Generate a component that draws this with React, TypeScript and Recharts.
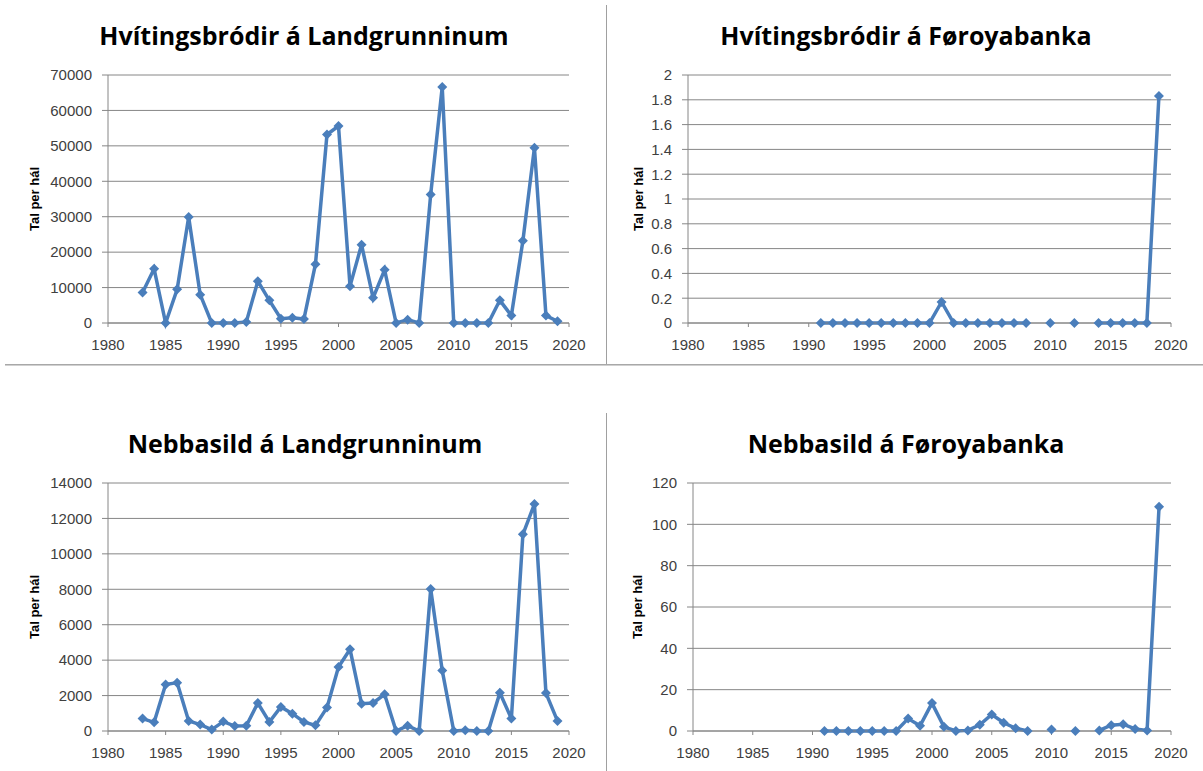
import { LineChart, Line, XAxis, YAxis, CartesianGrid } from "recharts";

// years with data on the shelf (Landgrunnin) series
const landYears = [
  1983, 1984, 1985, 1986, 1987, 1988, 1989, 1990, 1991, 1992, 1993, 1994, 1995,
  1996, 1997, 1998, 1999, 2000, 2001, 2002, 2003, 2004, 2005, 2006, 2007, 2008,
  2009, 2010, 2011, 2012, 2013, 2014, 2015, 2016, 2017, 2018, 2019,
];
const hvitLand = [
  8600, 15300, 0, 9500, 29900, 8000, 0, 0, 0, 300, 11800, 6400, 1200,
  1500, 1100, 16600, 53200, 55600, 10400, 22100, 7100, 15000, 0, 900, 0, 36300,
  66600, 0, 0, 0, 0, 6400, 2100, 23200, 49500, 2100, 500,
];
const nebbLand = [
  700, 490, 2620, 2730, 570, 360, 80, 530, 280, 300, 1580, 510, 1360,
  980, 510, 320, 1320, 3610, 4610, 1540, 1580, 2070, 0, 300, 0, 8010,
  3420, 0, 40, 0, 0, 2160, 700, 11100, 12810, 2140, 570,
];

// Faroe Bank series, gaps are years without survey
const bankYears = [
  1991, 1992, 1993, 1994, 1995, 1996, 1997, 1998, 1999, 2000, 2001, 2002, 2003,
  2004, 2005, 2006, 2007, 2008, 2009, 2010, 2011, 2012, 2013, 2014, 2015, 2016,
  2017, 2018, 2019,
];
const hvitBank = [
  0, 0, 0, 0, 0, 0, 0, 0, 0, 0, 0.17, 0, 0,
  0, 0, 0, 0, 0, null, 0, null, 0, null, 0, 0, 0,
  0, 0, 1.83,
];
const nebbBank = [
  0, 0, 0, 0, 0, 0, 0, 6, 2.5, 13.5, 2, 0, 0.3,
  3, 8, 4, 1.3, 0, null, 0.7, null, 0, null, 0.3, 2.8, 3.3,
  1, 0.3, 108.5,
];

const yearTicks = [1980, 1985, 1990, 1995, 2000, 2005, 2010, 2015, 2020];
const hvitLandTicks = [0, 10000, 20000, 30000, 40000, 50000, 60000, 70000];
const nebbLandTicks = [0, 2000, 4000, 6000, 8000, 10000, 12000, 14000];
const hvitBankTicks = [0, 0.2, 0.4, 0.6, 0.8, 1, 1.2, 1.4, 1.6, 1.8, 2];
const nebbBankTicks = [0, 20, 40, 60, 80, 100, 120];

const BLUE = "#4a7ebb";
const GRID = "#868686";
const tickStyle = { fontFamily: "Liberation Sans", fontSize: 15, fill: "#404040" };

const toRows = (years: number[], vals: (number | null)[]) =>
  years.map((year, i) => ({ year, value: vals[i] }));

const Diamond = (props: any) => {
  const { cx, cy, value } = props;
  if (cx == null || cy == null || value == null) return null;
  const r = 5;
  return (
    <path
      key={`d-${cx}`}
      d={`M${cx},${cy - r}L${cx + r},${cy}L${cx},${cy + r}L${cx - r},${cy}Z`}
      fill={BLUE}
    />
  );
};

interface PanelProps {
  data: { year: number; value: number | null }[];
  ticks: number[];
  left: number;
  top: number;
  width: number;
  marginLeft: number;
  marginRight: number;
}

const Panel = ({ data, ticks, left, top, width, marginLeft, marginRight }: PanelProps) => (
  <div style={{ position: "absolute", left, top }}>
    <LineChart
      width={width}
      height={300}
      data={data}
      margin={{ top: 15, right: marginRight, left: marginLeft, bottom: 7 }}
    >
      <CartesianGrid vertical={false} stroke={GRID} />
      <XAxis
        dataKey="year"
        type="number"
        domain={[1980, 2020]}
        ticks={yearTicks}
        interval={0}
        height={30}
        tick={tickStyle}
        tickSize={4}
        tickMargin={12}
        axisLine={{ stroke: GRID }}
        tickLine={{ stroke: GRID }}
      />
      <YAxis
        type="number"
        domain={[ticks[0], ticks[ticks.length - 1]]}
        ticks={ticks}
        interval={0}
        width={60}
        tick={tickStyle}
        tickSize={6}
        tickMargin={10}
        axisLine={{ stroke: GRID }}
        tickLine={{ stroke: GRID }}
      />
      <Line
        type="linear"
        dataKey="value"
        stroke={BLUE}
        strokeWidth={3.5}
        dot={Diamond}
        activeDot={false}
        connectNulls={false}
        isAnimationActive={false}
      />
    </LineChart>
  </div>
);

const titleStyle = {
  fontFamily: "Open Sans",
  fontWeight: 700,
  fontSize: 25,
  fill: "#000",
};
const ylabStyle = {
  fontFamily: "Liberation Sans",
  fontWeight: 700,
  fontSize: 13,
  fill: "#000",
};

export default function App() {
  return (
    <div
      style={{
        position: "absolute",
        left: 0,
        top: 0,
        width: 1203,
        height: 771,
        background: "#fff",
        overflow: "hidden",
      }}
    >
      <Panel data={toRows(landYears, hvitLand)} ticks={hvitLandTicks} left={0} top={60} width={600} marginLeft={48} marginRight={31} />
      <Panel data={toRows(bankYears, hvitBank)} ticks={hvitBankTicks} left={606} top={60} width={597} marginLeft={22} marginRight={32} />
      <Panel data={toRows(landYears, nebbLand)} ticks={nebbLandTicks} left={0} top={468} width={600} marginLeft={48} marginRight={31} />
      <Panel data={toRows(bankYears, nebbBank)} ticks={nebbBankTicks} left={606} top={468} width={597} marginLeft={27} marginRight={32} />

      <svg
        width={1203}
        height={771}
        style={{ position: "absolute", left: 0, top: 0, pointerEvents: "none" }}
      >
        <line x1={606.5} y1={5} x2={606.5} y2={365} stroke="#a0a0a0" />
        <line x1={606.5} y1={413} x2={606.5} y2={771} stroke="#a0a0a0" />
        <line x1={5} y1={364.5} x2={1203} y2={364.5} stroke="#a8a8a8" />
        <line x1={5} y1={365.5} x2={1203} y2={365.5} stroke="#d0d0d0" />

        <text x={304} y={45} textAnchor="middle" style={titleStyle}>Hvítingsbródir á Landgrunninum</text>
        <text x={906} y={45} textAnchor="middle" style={titleStyle}>Hvítingsbródir á Føroyabanka</text>
        <text x={305} y={453} textAnchor="middle" style={titleStyle}>Nebbasild á Landgrunninum</text>
        <text x={906} y={453} textAnchor="middle" style={titleStyle}>Nebbasild á Føroyabanka</text>

        <text x={34} y={199} transform="rotate(-90, 34, 199)" textAnchor="middle" dominantBaseline="central" style={ylabStyle}>Tal per hál</text>
        <text x={638} y={199} transform="rotate(-90, 638, 199)" textAnchor="middle" dominantBaseline="central" style={ylabStyle}>Tal per hál</text>
        <text x={34} y={607} transform="rotate(-90, 34, 607)" textAnchor="middle" dominantBaseline="central" style={ylabStyle}>Tal per hál</text>
        <text x={637} y={607} transform="rotate(-90, 637, 607)" textAnchor="middle" dominantBaseline="central" style={ylabStyle}>Tal per hál</text>
      </svg>
    </div>
  );
}
